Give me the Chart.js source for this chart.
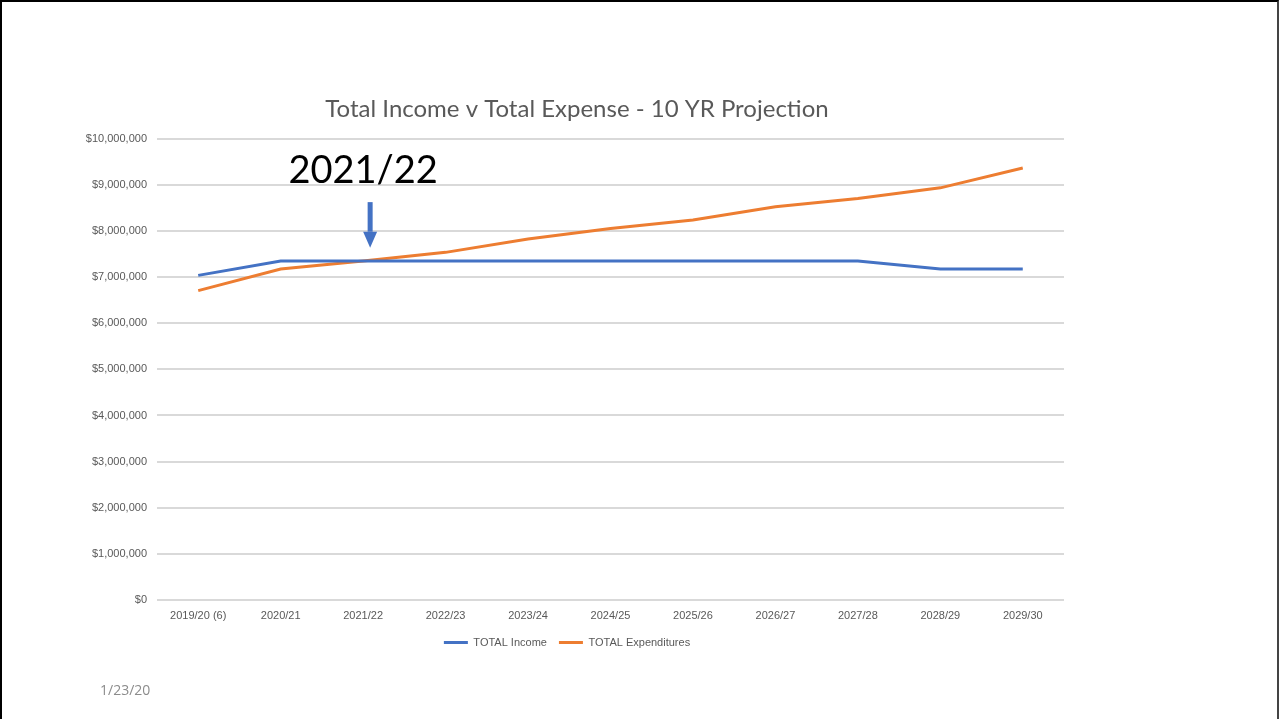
<!DOCTYPE html>
<html>
<head>
<meta charset="utf-8">
<script src="https://cdn.jsdelivr.net/npm/chart.js@4.4.1/dist/chart.umd.min.js"></script>
<style>
  html, body { margin: 0; padding: 0; background: #fff; }
  body { width: 1279px; height: 719px; overflow: hidden; position: relative; }
  #frame { position: absolute; left: 0; top: 0; width: 1279px; height: 719px; box-sizing: border-box;
           border-top: 2px solid #000; border-left: 2px solid #000; border-right: 2px solid #444; }
  #wrap { position: absolute; left: 0; top: 0; width: 1279px; height: 719px; }
  #date { position: absolute; left: 100px; top: 680px; font: 14px "Open Sans", sans-serif; color: #8c8c8c; }
</style>
</head>
<body>
<div id="wrap"><canvas id="mycanvas" width="1279" height="719"></canvas></div>
<div id="frame"></div>
<div id="date">1/23/20</div>
<script>
var years = ['2019/20 (6)', '2020/21', '2021/22', '2022/23', '2023/24', '2024/25',
             '2025/26', '2026/27', '2027/28', '2028/29', '2029/30'];
var totalIncome = [7040000, 7350000, 7350000, 7350000, 7350000, 7350000,
                   7350000, 7350000, 7350000, 7180000, 7180000];
var totalExpenditures = [6710000, 7180000, 7350000, 7540000, 7830000, 8060000,
                         8240000, 8530000, 8710000, 8940000, 9370000];
var chartTitle = 'Total Income v Total Expense - 10 YR Projection';
var calloutLabel = '2021/22';
var calloutIndex = 2;

// title sits a little right of the plot centre, like the slide
var slideTitle = {
	id: 'slideTitle',
	afterDraw: function(chart) {
		var ctx = chart.ctx;
		var a = chart.chartArea;
		ctx.save();
		ctx.fillStyle = '#595959';
		ctx.font = '24px Lato, sans-serif';
		ctx.textAlign = 'center';
		ctx.textBaseline = 'middle';
		ctx.fillText(chartTitle, 577, a.top - 30);
		ctx.restore();
	}
};

// big year label with a down arrow pointing at the crossover
var callout = {
	id: 'callout',
	afterDraw: function(chart) {
		var ctx = chart.ctx;
		var x = chart.scales.x.getPixelForValue(calloutIndex);
		var y = chart.scales.y;
		ctx.save();
		ctx.fillStyle = '#000';
		ctx.font = '38px Lato, sans-serif';
		ctx.textAlign = 'center';
		ctx.textBaseline = 'alphabetic';
		ctx.fillText(calloutLabel, x, y.getPixelForValue(9050000));
		var ax = x + 7;
		var top = y.getPixelForValue(8630000);
		var tip = y.getPixelForValue(7640000);
		ctx.fillStyle = '#4472C4';
		ctx.fillRect(ax - 2.5, top, 5, tip - top - 16);
		ctx.beginPath();
		ctx.moveTo(ax - 7, tip - 16);
		ctx.lineTo(ax + 7, tip - 16);
		ctx.lineTo(ax, tip);
		ctx.closePath();
		ctx.fill();
		ctx.restore();
	}
};

var ctx = document.getElementById('mycanvas');
var lineChart = new Chart(ctx, {
	type: 'line',
	data: {
		labels: years,
		datasets: [
			{
				label: 'TOTAL Income',
				data: totalIncome,
				borderColor: '#4472C4',
				backgroundColor: '#4472C4',
				borderWidth: 3,
				pointRadius: 0,
				tension: 0
			},
			{
				label: 'TOTAL Expenditures',
				data: totalExpenditures,
				borderColor: '#ED7D31',
				backgroundColor: '#ED7D31',
				borderWidth: 3,
				pointRadius: 0,
				tension: 0
			}
		]
	},
	options: {
		responsive: false,
		animation: false,
		layout: { padding: { left: 70, right: 215, top: 139, bottom: 61 } },
		plugins: {
			title: { display: false },
			legend: {
				position: 'bottom',
				labels: {
					color: '#595959',
					font: { family: 'Liberation Sans, sans-serif', size: 11 },
					usePointStyle: true,
					pointStyle: 'line',
					pointStyleWidth: 24,
					padding: 12
				}
			},
			tooltip: { enabled: false }
		},
		scales: {
			x: {
				offset: true,
				grid: { display: false },
				border: { display: false },
				ticks: {
					color: '#595959',
					font: { family: 'Liberation Sans, sans-serif', size: 11 },
					maxRotation: 0,
					padding: 2
				}
			},
			y: {
				min: 0,
				max: 10000000,
				afterFit: function(scale) { scale.width = 87; },
				grid: { color: '#d9d9d9', lineWidth: 2, drawTicks: false },
				border: { display: false },
				ticks: {
					stepSize: 1000000,
					color: '#595959',
					padding: 10,
					font: { family: 'Liberation Sans, sans-serif', size: 11 },
					callback: function(v) { return '$' + v.toLocaleString('en-US'); }
				}
			}
		}
	},
	plugins: [slideTitle, callout]
});
</script>
</body>
</html>
